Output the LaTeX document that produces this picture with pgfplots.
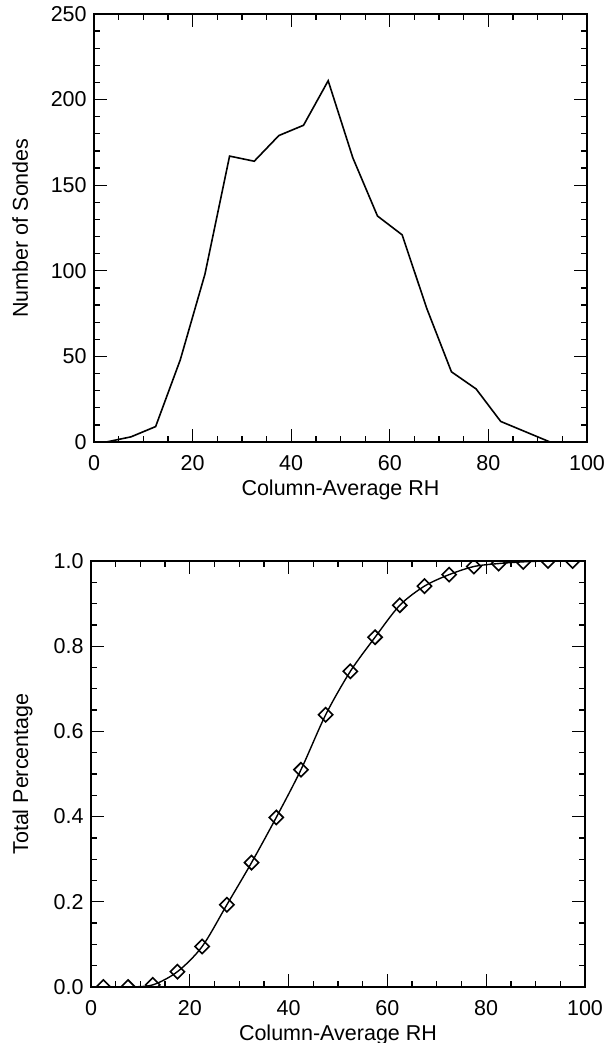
\documentclass[border=0pt]{standalone}
\usepackage{pgfplots}
\pgfplotsset{compat=1.18}
\usepackage{fontspec}
\setmainfont{Liberation Sans}
\begin{document}
\fontsize{21.5}{25}\selectfont
\begin{tikzpicture}[x=1pt,y=1pt]
\useasboundingbox (0,0) rectangle (607,1043);
\pgfplotsset{
 every axis/.append style={
  scale only axis,
  font=\fontsize{21.5}{25}\selectfont,
  tick align=inside,
  major tick length=13pt, minor tick length=6pt,
  axis line style={line width=1.6pt},
  every tick/.style={line width=1.3pt, black},
  xmin=0, xmax=100, xtick={0,20,40,60,80,100}, minor x tick num=3,
  /pgf/number format/assume math mode=true,
  xticklabel style={yshift=-6pt},
  xlabel style={at={(axis description cs:0.5,-0.1255)}, anchor=base},
 }
}
\begin{axis}[
  at={(94pt,601pt)}, anchor=south west,
  width=493pt, height=428pt,
  ymin=0, ymax=250, ytick={0,50,100,150,200,250}, minor y tick num=4,
  xlabel={Column-Average RH},
  ylabel={Number of Sondes},
  ylabel style={at={(axis description cs:-0.134,0.5)}, anchor=base},
]
\addplot[black, line width=1.6pt] coordinates {
(2.5,0) (7.5,3) (12.5,9) (17.5,48) (22.5,98) (27.5,167) (32.5,164) (37.5,179)
(42.5,185) (47.5,211) (52.5,166) (57.5,132) (62.5,121) (67.5,78) (72.5,41)
(77.5,31) (82.5,12) (87.5,6) (92.5,0)
};
\end{axis}
\begin{axis}[
  at={(91pt,56pt)}, anchor=south west,
  width=494pt, height=426pt,
  ymin=0, ymax=1, ytick={0,0.2,0.4,0.6,0.8,1}, minor y tick num=3,
  yticklabel style={/pgf/number format/.cd, fixed, fixed zerofill, precision=1},
  xlabel={Column-Average RH},
  ylabel={Total Percentage},
  ylabel style={at={(axis description cs:-0.1275,0.5)}, anchor=base},
  clip marker paths=true,
]
\addplot[black, line width=1.4pt, smooth] coordinates {
(2.5,0) (7.5,0) (12.5,0.005) (17.5,0.036) (22.5,0.095) (27.5,0.193) (32.5,0.292)
(37.5,0.398) (42.5,0.510) (47.5,0.639) (52.5,0.741) (57.5,0.821) (62.5,0.896)
(67.5,0.941) (72.5,0.968) (77.5,0.987) (82.5,0.994) (87.5,0.998) (92.5,1.0) (97.5,1.0)
};
\addplot[black, only marks, mark=square, mark size=5pt, mark options={rotate=45, line width=1.6pt, fill=white}] coordinates {
(2.5,0) (7.5,0) (12.5,0.005) (17.5,0.036) (22.5,0.095) (27.5,0.193) (32.5,0.292)
(37.5,0.398) (42.5,0.510) (47.5,0.639) (52.5,0.741) (57.5,0.821) (62.5,0.896)
(67.5,0.941) (72.5,0.968) (77.5,0.987) (82.5,0.994) (87.5,0.998) (92.5,1.0) (97.5,1.0)
};
\end{axis}
\end{tikzpicture}
\end{document}
